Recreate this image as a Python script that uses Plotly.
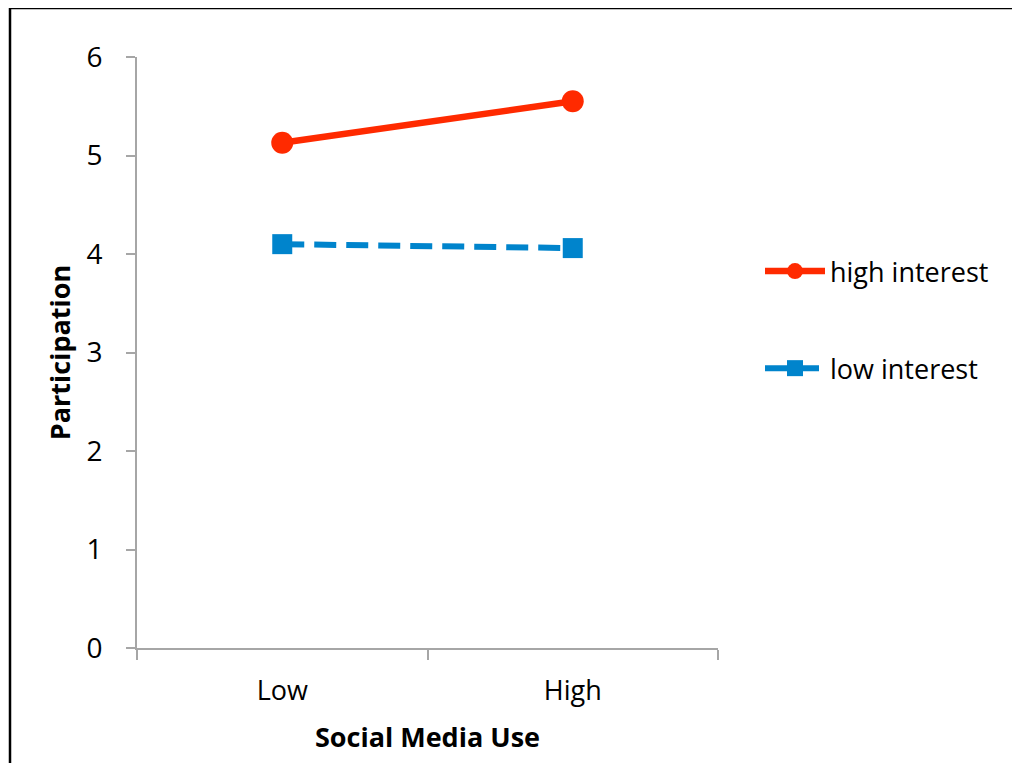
import plotly.graph_objects as go

categories = ["Low", "High"]
high_interest = [5.13, 5.55]
low_interest = [4.10, 4.06]
y_ticks = [0, 1, 2, 3, 4, 5, 6]

RED = "#FF2A00"
BLUE = "#0084CC"
FONT = "Open Sans"

fig = go.Figure()
fig.add_trace(go.Scatter(
    x=categories, y=high_interest, name="high interest", mode="lines+markers",
    line=dict(color=RED, width=6.5), marker=dict(symbol="circle", size=22, color=RED),
    legendgroup="a"))
fig.add_trace(go.Scatter(
    x=categories, y=low_interest, name="low interest", mode="lines+markers",
    line=dict(color=BLUE, width=6, dash="22px,10px"),
    marker=dict(symbol="square", size=20, color=BLUE),
    legendgroup="b"))

# page renders the figure with an 8px body offset
OFF = 8
W, H = 1020, 763
L, T = 137 - OFF, 57 - OFF
R = W - (718 - OFF)
B = H - (648 - OFF)
pw, ph = W - L - R, H - T - B

def px_x(x):
    return (x - OFF - L) / pw

def px_y(y):
    return (H - B - (y - OFF)) / ph

fig.update_layout(
    width=W, height=H,
    margin=dict(l=L, r=R, t=T, b=B),
    paper_bgcolor="white", plot_bgcolor="white",
    font=dict(family=FONT, size=28, color="black"),
    showlegend=True,
    legend=dict(x=px_x(760), y=px_y(247), xanchor="left", yanchor="top",
                tracegroupgap=59, font=dict(size=27, family=FONT),
                bgcolor="rgba(0,0,0,0)", itemwidth=60),
    xaxis=dict(
        type="category", range=[-0.5, 1.5], showline=True, linecolor="#A6A6A6",
        linewidth=2, ticks="outside", tickson="boundaries", ticklen=10,
        tickcolor="#A6A6A6", tickwidth=2, showgrid=False, zeroline=False,
        ticklabelstandoff=18,
        tickfont=dict(size=27, family=FONT),
        title=dict(text="<b>Social Media Use</b>", font=dict(size=27, family=FONT), standoff=21),
    ),
    yaxis=dict(
        range=[0, 6], tickvals=y_ticks, showline=True, linecolor="#A6A6A6",
        linewidth=2, ticks="outside", ticklen=9, tickcolor="#A6A6A6", tickwidth=2,
        showgrid=False, zeroline=False, ticklabelstandoff=18,
        tickfont=dict(size=28, family=FONT),
        title=dict(text="<b>Participation</b>", font=dict(size=27, family=FONT), standoff=8),
    ),
)

# figure frame (top and left edges visible)
fig.add_shape(type="line", xref="paper", yref="paper",
              x0=px_x(10), x1=px_x(1040), y0=px_y(8), y1=px_y(8),
              line=dict(color="black", width=2.5))
fig.add_shape(type="line", xref="paper", yref="paper",
              x0=px_x(10), x1=px_x(10), y0=px_y(8), y1=px_y(800),
              line=dict(color="black", width=2.5))

fig.write_html("out.html")
